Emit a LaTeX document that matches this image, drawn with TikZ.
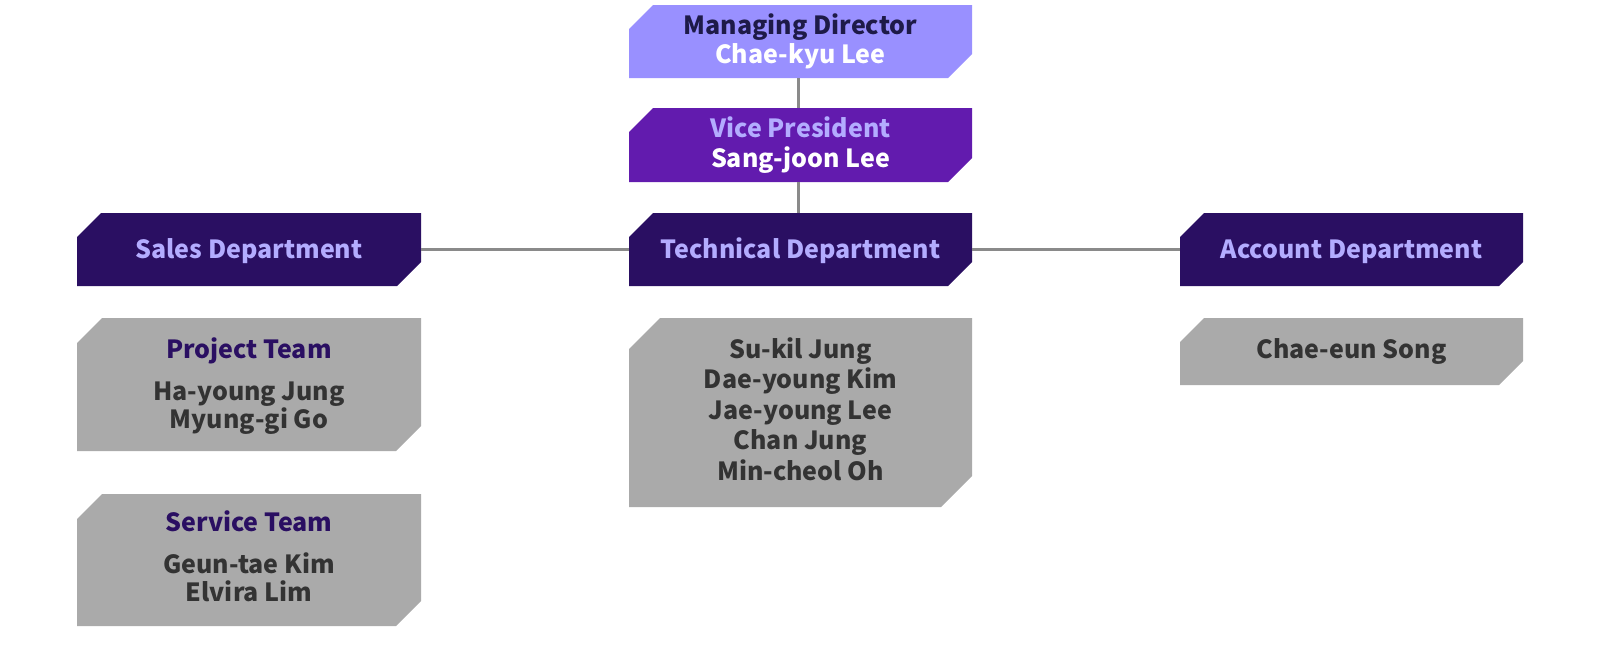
\documentclass[tikz,border=0pt]{standalone}
\usepackage{fontspec}
\setmainfont{Noto Sans CJK KR}
\definecolor{mdfill}{HTML}{9990FF}
\definecolor{vpfill}{HTML}{621BAE}
\definecolor{deptfill}{HTML}{2A0F62}
\definecolor{grayfill}{HTML}{AAAAAA}
\definecolor{lavtext}{HTML}{B3ACFF}
\definecolor{mdtext}{HTML}{1E1A48}
\definecolor{nametext}{HTML}{333333}
\definecolor{linegray}{HTML}{8A8A8A}
\newcommand{\orgbox}[7]{%
  \fill[#6] ({#1+#5},#2) -- (#3,#2) -- (#3,{#4-#5}) -- ({#3-#5},#4) -- (#1,#4) -- (#1,{#2+#5}) -- cycle;
  \node[boxname, minimum width={(#3-#1)*1pt}, minimum height={(#4-#2)*1pt}] (#7) at ({(#1+#3)/2},{(#2+#4)/2}) {};
}
\begin{document}
\begin{tikzpicture}[x=1pt,y=-1pt,
  boxname/.style={inner sep=0pt, outer sep=0pt, draw=none},
  txt/.style={font=\bfseries\fontsize{25}{26}\selectfont, align=center, inner sep=0pt, anchor=base},
  conn/.style={draw=linegray, line width=3.5pt}]
\useasboundingbox (0,0) rectangle (1600,664);
\orgbox{629}{5}{972}{78}{24}{mdfill}{md}
\orgbox{629}{108}{972}{182}{24}{vpfill}{vp}
\orgbox{629}{213}{972}{286}{24}{deptfill}{tech}
\orgbox{77}{213}{421}{286}{24}{deptfill}{sales}
\orgbox{1180}{213}{1523}{286}{24}{deptfill}{acct}
\orgbox{77}{318}{421}{451}{25}{grayfill}{proj}
\orgbox{77}{494}{421}{626}{25}{grayfill}{serv}
\orgbox{629}{318}{972}{507}{31}{grayfill}{techteam}
\orgbox{1180}{318}{1523}{385}{24}{grayfill}{acctteam}
\draw[conn] ([xshift=-2pt]md.south) -- ([xshift=-2pt]vp.north);
\draw[conn] ([xshift=-2pt]vp.south) -- ([xshift=-2pt]tech.north);
\draw[conn] (tech.west) -- (sales.east);
\draw[conn] (tech.east) -- (acct.west);
% texts
\node[txt, text=mdtext] at (800.5,34) {Managing Director};
\node[txt, text=white] at (800.5,63) {Chae-kyu Lee};
\node[txt, text=lavtext] at (800.5,137) {Vice President};
\node[txt, text=white] at (800.5,167) {Sang-joon Lee};
\node[txt, text=lavtext] at (800.5,258) {Technical Department};
\node[txt, text=lavtext] at (249,258) {Sales Department};
\node[txt, text=lavtext] at (1351.5,258) {Account Department};
\node[txt, text=deptfill] at (249,358) {Project Team};
\node[txt, text=nametext] at (249,400) {Ha-young Jung};
\node[txt, text=nametext] at (249,428) {Myung-gi Go};
\node[txt, text=deptfill] at (249,531) {Service Team};
\node[txt, text=nametext] at (249,573) {Geun-tae Kim};
\node[txt, text=nametext] at (249,601) {Elvira Lim};
\node[txt, text=nametext] at (800.5,358) {Su-kil Jung};
\node[txt, text=nametext] at (800.5,388.5) {Dae-young Kim};
\node[txt, text=nametext] at (800.5,419) {Jae-young Lee};
\node[txt, text=nametext] at (800.5,449.5) {Chan Jung};
\node[txt, text=nametext] at (800.5,480) {Min-cheol Oh};
\node[txt, text=nametext] at (1351.5,358) {Chae-eun Song};
\end{tikzpicture}
\end{document}
